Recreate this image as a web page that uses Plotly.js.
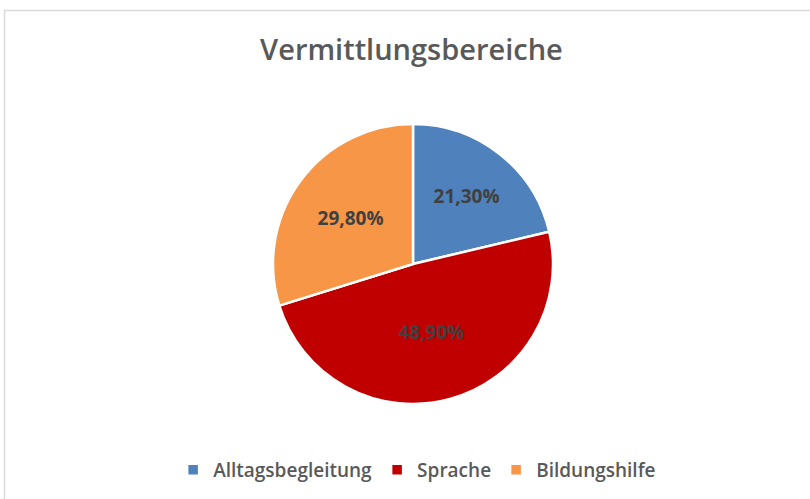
<!DOCTYPE html>
<html>
<head>
<meta charset="utf-8">
<script src="https://cdn.plot.ly/plotly-3.0.1.min.js"></script>
<style>html,body{margin:0;padding:0;background:#fff;}#chart{width:810px;height:499px;}</style>
</head>
<body>
<div id="chart"></div>
<script>
const categories = ["Alltagsbegleitung", "Sprache", "Bildungshilfe"];
const shares = [21.3, 48.9, 29.8];
const shareLabels = ["21,30%", "48,90%", "29,80%"];
const sliceColors = ["#4F81BD", "#C00000", "#F79646"];

const W = 810, H = 499;
const trace = {
  type: "pie",
  labels: categories,
  values: shares,
  text: shareLabels,
  texttemplate: "<b>%{text}</b>",
  textinfo: "text",
  textposition: "inside",
  insidetextorientation: "horizontal",
  hoverinfo: "label+text",
  sort: false,
  direction: "clockwise",
  rotation: 0,
  marker: {colors: sliceColors, line: {color: "#ffffff", width: 2.5}},
  textfont: {family: "Open Sans, sans-serif", size: 19, color: "#404040"},
  insidetextfont: {family: "Open Sans, sans-serif", size: 19, color: "#404040"},
  domain: {x: [273 / W, 553 / W], y: [(H - 404) / H, (H - 124) / H]}
};

const layout = {
  width: W, height: H,
  margin: {l: 0, r: 0, t: 0, b: 0},
  paper_bgcolor: "#ffffff",
  showlegend: true,
  title: {
    text: "Vermittlungsbereiche",
    font: {family: "Open Sans, sans-serif", size: 29, color: "#595959", weight: 600},
    x: 0.508, xanchor: "center", y: 1 - 50 / H, yanchor: "middle"
  },
  legend: {
    orientation: "h", x: 0.515, xanchor: "center", y: 1 - 470 / H, yanchor: "middle",
    font: {family: "Open Sans, sans-serif", size: 19, color: "#595959", weight: 600},
    itemwidth: 30, traceorder: "normal"
  },
  shapes: [{
    type: "rect", xref: "paper", yref: "paper",
    x0: 4.5 / W, x1: 1.02, y0: -0.02, y1: 1 - 10.5 / H,
    line: {color: "#d9d9d9", width: 1.5}, fillcolor: "rgba(0,0,0,0)", layer: "below"
  }]
};

Plotly.newPlot("chart", [trace], layout, {displayModeBar: false, staticPlot: true});
</script>
</body>
</html>
